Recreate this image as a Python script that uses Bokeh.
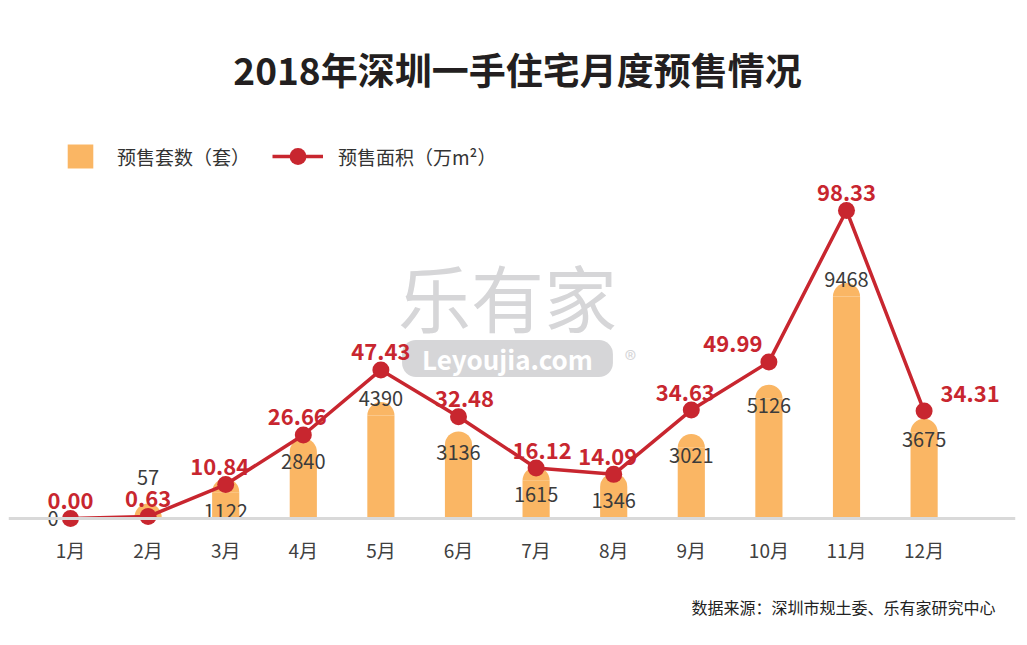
import math
from bokeh.plotting import figure
from bokeh.models import (Range1d, Span, Label, Legend, LegendItem, ColumnDataSource)
from bokeh.core.properties import value
from bokeh.embed import file_html
from bokeh.resources import INLINE

# ---------------- data ----------------
months = ["1月", "2月", "3月", "4月", "5月", "6月", "7月", "8月", "9月", "10月", "11月", "12月"]
units = [0, 57, 1122, 2840, 4390, 3136, 1615, 1346, 3021, 5126, 9468, 3675]          # 预售套数（套）
area = [0.00, 0.63, 10.84, 26.66, 47.43, 32.48, 16.12, 14.09, 34.63, 49.99, 98.33, 34.31]  # 预售面积（万m²）

title_text = "2018年深圳一手住宅月度预售情况"
bar_name = "预售套数（套）"
line_name = "预售面积（万m²）"
source_text = "数据来源：深圳市规土委、乐有家研究中心"

# ---------------- style / layout ----------------
FONT = "Noto Sans CJK SC"
BAR_COLOR = "#FAB664"
LINE_COLOR = "#C8262F"
BASE_COLOR = "#D9D9D9"
TEXT_DARK = "#3B3B3B"
WM_COLOR = "#D6D6D8"

W, H = 1019, 640
ML, MR, MT, MB = 8, 4, 8, 0
FRAME_W, FRAME_H = W - ML - MR, H - MT - MB
BASE_Y = 518          # page y of the baseline
BASE_PX = MT + FRAME_H - BASE_Y   # baseline height above frame bottom
STEP = 77.6           # px per category
FIRST = 62            # px from frame left to first category
BAR_W = 0.35          # bar width in category units
BAR_MAX_PX = 222      # px height of tallest bar body
LINE_MAX_PX = 308     # px height of highest line point

k_b = BAR_MAX_PX / max(units)
k_l = LINE_MAX_PX / max(area)
CAP = BAR_W / 2 * STEP

x_range = Range1d(-FIRST / STEP, (FRAME_W - FIRST) / STEP)
bar_range = Range1d(-BASE_PX / k_b, (FRAME_H - BASE_PX) / k_b)
line_range = Range1d(-BASE_PX / k_l, (FRAME_H - BASE_PX) / k_l)

p = figure(width=W, height=H, x_range=x_range, y_range=bar_range,
           output_backend="svg", toolbar_location=None,
           x_axis_location=None, y_axis_location=None,
           min_border_left=ML, min_border_right=MR, min_border_top=MT, min_border_bottom=MB)
p.extra_y_ranges = {"line": line_range}
p.outline_line_color = None
p.xgrid.visible = False
p.ygrid.visible = False
p.background_fill_color = "white"
p.border_fill_color = "white"

xs = list(range(len(months)))


def page_x(px):
    return (px - ML - FIRST) / STEP


def page_y(py):
    return (BASE_Y - py) / k_b


# ---------------- watermark (centre) ----------------
p.add_layout(Label(x=page_x(507), y=page_y(294), text="乐有家", text_align="center",
                   text_baseline="middle", text_font=FONT, text_font_size="73px",
                   text_color=WM_COLOR, level="underlay"))
p.add_layout(Label(x=page_x(507), y=page_y(358), text="Leyoujia.com", text_align="center",
                   text_baseline="middle", text_font=FONT, text_font_size="26px",
                   text_font_style="bold", text_color="white",
                   background_fill_color=WM_COLOR, padding=(20, 0), border_radius=14,
                   level="underlay"))
p.add_layout(Label(x=page_x(630), y=page_y(358), text="®", text_align="center",
                   text_baseline="middle", text_font=FONT, text_font_size="24px",
                   text_color=WM_COLOR, level="underlay"))

# ---------------- baseline & category labels ----------------
p.add_layout(Span(location=0, dimension="width", line_color=BASE_COLOR, line_width=3))
p.text(x=xs, y=[page_y(549)] * len(xs), text=months,
       text_font=value(FONT), text_font_size="19px", text_color="#404040",
       text_align="center", text_baseline="middle")

# ---------------- bars ----------------
src = ColumnDataSource(dict(x=xs, units=units, area=area))
bars = p.vbar(x="x", top="units", width=BAR_W, source=src,
              fill_color=BAR_COLOR, line_color=None)
cap_src = ColumnDataSource(dict(x=[i for i, u in zip(xs, units) if u > 0],
                                y=[u for u in units if u > 0]))
p.wedge(x="x", y="y", radius=BAR_W / 2, start_angle=0, end_angle=math.pi,
        source=cap_src, fill_color=BAR_COLOR, line_color=None)

# ---------------- line ----------------
ln = p.line(x="x", y="area", source=src, y_range_name="line",
            line_color=LINE_COLOR, line_width=3.5)
dots = p.scatter(x="x", y="area", source=src, y_range_name="line",
                 size=17, fill_color=LINE_COLOR, line_color=None)

# ---------------- labels ----------------
TXT_H = 15
RED_GAP = 18
n = len(months)

# nudge line labels away from steep neighbouring segments
red_dx = []
for i in range(n):
    out_rise = (area[i + 1] - area[i]) * k_l / STEP if i < n - 1 else 0
    in_drop = (area[i - 1] - area[i]) * k_l / STEP if i > 0 else 0
    if out_rise > 1.2:
        red_dx.append(-36)
    elif in_drop > 1.2:
        red_dx.append(46)
    elif out_rise > 0.5:
        red_dx.append(-6)
    elif in_drop > 0.5:
        red_dx.append(6)
    else:
        red_dx.append(0)


def overlap(a, b):
    return min(a[1], b[1]) - max(a[0], b[0])


bl_x, bl_y, bl_t = [], [], []
for i in range(n):
    if units[i] <= 0:
        continue
    cap_top = units[i] * k_b + CAP
    dot = area[i] * k_l
    dot_box = (dot - 8.5, dot + 8.5)
    red_box = (dot + RED_GAP, dot + RED_GAP + 17)
    bottom = cap_top + 3
    box = (bottom, bottom + TXT_H)
    hit = overlap(box, dot_box) > 1 or (abs(red_dx[i]) < 20 and overlap(box, red_box) > 1)
    if hit:
        top = min(cap_top - 6, dot_box[0] - 3)
        bottom = top - TXT_H
        if bottom < 2:
            bottom = red_box[1] + 4
    bl_x.append(xs[i])
    bl_y.append(bottom / k_b)
    bl_t.append(str(units[i]))

p.text(x="x", y="y", text="t", source=ColumnDataSource(dict(x=bl_x, y=bl_y, t=bl_t)),
       text_font=value(FONT), text_font_size="20px", text_color=TEXT_DARK,
       text_align="center", text_baseline="alphabetic")

zero_x = [xs[i] for i in range(n) if units[i] <= 0]
p.text(x="x", y="y", text="t",
       source=ColumnDataSource(dict(x=zero_x, y=[0] * len(zero_x),
                                    t=[str(units[i]) for i in range(n) if units[i] <= 0])),
       text_font=value(FONT), text_font_size="20px", text_color=TEXT_DARK,
       text_align="right", text_baseline="alphabetic", x_offset=-12, y_offset=0)

p.text(x="x", y="y", text="t", x_offset="dx",
       source=ColumnDataSource(dict(x=xs, y=area, t=[f"{a:.2f}" for a in area], dx=red_dx)),
       y_range_name="line", y_offset=-RED_GAP,
       text_font=value(FONT), text_font_size="22px", text_font_style="bold",
       text_color=LINE_COLOR, text_align="center", text_baseline="alphabetic")

# ---------------- title & source ----------------
p.add_layout(Label(x=page_x(517), y=page_y(68), text=title_text,
                   text_align="center", text_baseline="middle", text_font=FONT,
                   text_font_size="37px", text_font_style="bold", text_color="#231F20"))
p.add_layout(Label(x=page_x(995), y=page_y(606), text=source_text,
                   text_align="right", text_baseline="middle", text_font=FONT,
                   text_font_size="16px", text_color="#222222"))

# ---------------- legends ----------------
common = dict(orientation="horizontal", padding=0, margin=0, border_line_color=None,
              background_fill_alpha=0, label_text_font=FONT, label_text_font_size="19px",
              label_text_color="#333333")
leg_bottom_1 = MT + FRAME_H - 171
leg_bottom_2 = MT + FRAME_H - 177
leg1 = Legend(items=[LegendItem(label=value(bar_name), renderers=[bars])],
              location=(56, leg_bottom_1), glyph_width=32, glyph_height=30,
              label_standoff=21, **common)
leg2 = Legend(items=[LegendItem(label=value(line_name), renderers=[ln, dots])],
              location=(264, leg_bottom_2), glyph_width=51, glyph_height=42,
              label_standoff=15, **common)
p.add_layout(leg1)
p.add_layout(leg2)

open("out.html", "w").write(file_html(p, INLINE))
